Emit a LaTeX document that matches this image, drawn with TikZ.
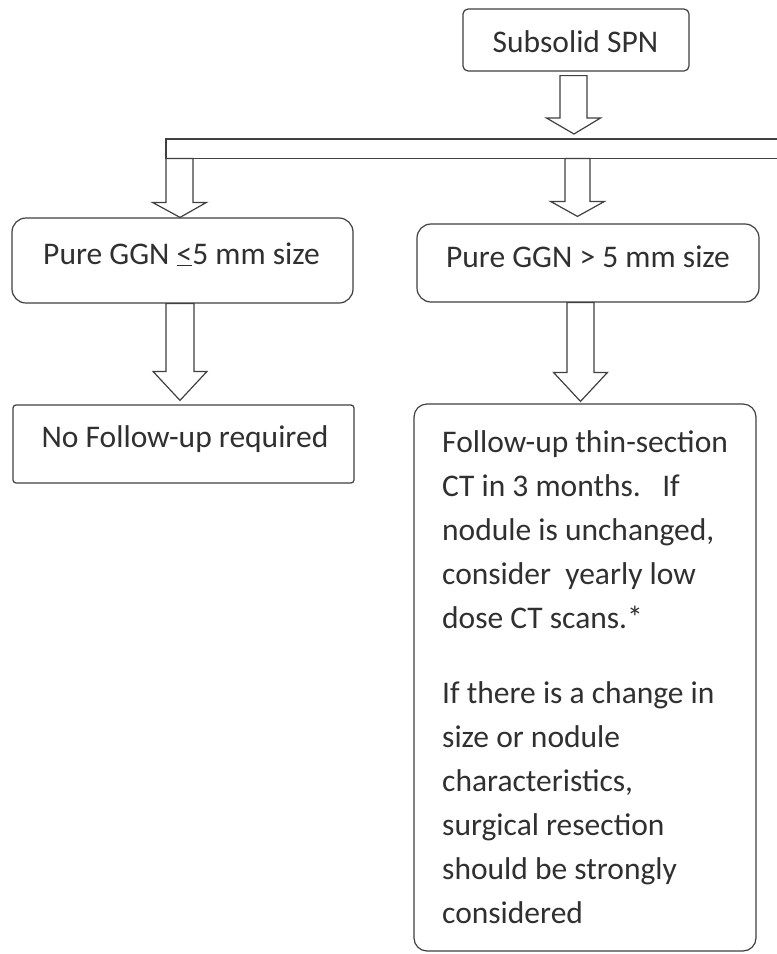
\documentclass[tikz,border=0pt]{standalone}
\usepackage{fontspec}
\setmainfont{Carlito}
\usetikzlibrary{calc}
\definecolor{linec}{HTML}{404040}
\definecolor{textc}{HTML}{303030}
\tikzset{
  box/.style={draw=linec, line width=1.2pt, fill=white, inner sep=0pt},
  lbl/.style={inner sep=0pt, text=textc, font=\fontsize{31.5}{44}\selectfont},
  blk/.style={draw=linec, line width=1.2pt, fill=white, line join=miter},
  edge/.style={draw=linec, line width=1.2pt}
}
\newcommand\myblk[5]{%
  \draw[blk] let \p1=(#1), \p2=(#2) in
    ({\x1-#3pt},\y1) -- ({\x1-#3pt},{\y2+#5pt}) -- ({\x1-#4pt},{\y2+#5pt}) --
    (\x2,\y2) -- ({\x1+#4pt},{\y2+#5pt}) -- ({\x1+#3pt},{\y2+#5pt}) --
    ({\x1+#3pt},\y1) -- cycle;}
\begin{document}
\begin{tikzpicture}[x=1pt,y=-1pt]
\useasboundingbox (0,0) rectangle (777,954);
\fill[white] (0,0) rectangle (777,954);

% boxes
\node[box, rounded corners=5pt, minimum width=226pt, minimum height=62pt] (spn) at (576,40) {};
\node[box, rounded corners=14pt, minimum width=341pt, minimum height=85pt] (ggnA) at (182.5,260.5) {};
\node[box, rounded corners=14pt, minimum width=342pt, minimum height=78pt] (ggnB) at (588,263) {};
\node[box, rounded corners=3pt, minimum width=341pt, minimum height=78pt] (nofu) at (183.5,444) {};
\node[box, rounded corners=13pt, minimum width=342pt, minimum height=547pt] (fu) at (585,677.5) {};

% horizontal bar (open to the right)
\node[inner sep=0pt, minimum width=611pt, minimum height=19pt, anchor=north west] (bar) at (166,139) {};
\draw[edge] (bar.north east) -- (bar.north west) -- (bar.south west) -- (bar.south east);

% texts
\node[lbl, anchor=base] (tspn) at (575.5,52) {Subsolid SPN};
\node[lbl, anchor=base] (tggnA) at (181.5,264) {Pure GGN \underline{<}5 mm size};
\node[lbl, anchor=base] (tggnB) at (588,267) {Pure GGN > 5 mm size};
\node[lbl, anchor=base] (tnofu) at (185,447) {No Follow-up required};
\node[lbl, anchor=base west] (tfu) at (442,452) {\parbox[t]{310pt}{\raggedright
Follow-up thin-section\\
CT in 3 months.\ \ \ If\\
nodule is unchanged,\\
consider\ \ yearly low\\
dose CT scans.*\\[31pt]
If there is a change in\\
size or nodule\\
characteristics,\\
surgical resection\\
should be strongly\\
considered}};

% block arrows
\coordinate (a1s) at ($(spn.south)+(-2.5,4)$);
\coordinate (a1t) at ($(a1s |- bar.north)+(0.5,-5)$);
\myblk{a1s}{a1t}{13.5}{27}{16}

\coordinate (a2s) at ($(bar.south west)+(13.5,0)$);
\coordinate (a2t) at ($(a2s |- ggnA.north)+(0.5,0)$);
\myblk{a2s}{a2t}{13.5}{27}{15}

\coordinate (a3s) at ($(bar.south west)+(411.5,0)$);
\coordinate (a3t) at ($(a3s |- ggnB.north)+(0,-7)$);
\myblk{a3s}{a3t}{12.5}{27}{15}

\coordinate (a4s) at ($(ggnA.south)+(-2.5,0)$);
\coordinate (a4t) at ($(a4s |- nofu.north)+(0,-4)$);
\myblk{a4s}{a4t}{14}{27}{29}

\coordinate (a5s) at ($(ggnB.south)+(-7.5,0)$);
\coordinate (a5t) at ($(a5s |- fu.north)+(0,-2)$);
\myblk{a5s}{a5t}{13.5}{27}{29}
\end{tikzpicture}
\end{document}
